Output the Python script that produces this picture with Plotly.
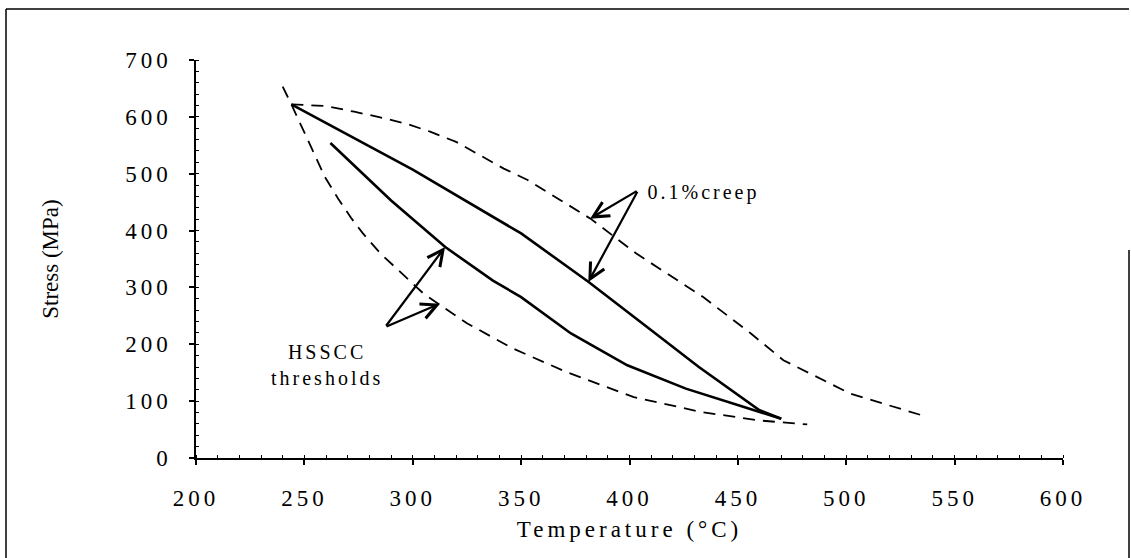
import plotly.graph_objects as go

# ---- data ----
creep_dashed_T = [244, 260, 273, 284, 297, 308, 320, 331, 342, 353, 382, 403, 434, 456, 471, 502, 535]
creep_dashed_S = [622, 619, 609, 600, 588, 574, 556, 533, 509, 489, 421, 360, 283, 219, 172, 113, 75]

creep_solid_T = [244, 300, 350, 359, 381, 412, 432, 460, 470]
creep_solid_S = [622, 507, 395, 370, 310, 219, 160, 84, 69]

hsscc_solid_T = [262, 290, 315, 337, 350, 373, 399, 426, 451, 470]
hsscc_solid_S = [554, 453, 371, 312, 283, 219, 163, 122, 92, 69]

hsscc_dashed_T = [240, 244, 259.5, 265.6, 271.8, 277, 285, 291, 305, 325, 346, 371, 402, 433, 460, 482]
hsscc_dashed_S = [653, 622, 494, 456, 421, 395, 360, 339, 289, 237, 193, 151, 107, 81, 66, 59]

x_ticks = [200, 250, 300, 350, 400, 450, 500, 550, 600]
y_ticks = [0, 100, 200, 300, 400, 500, 600, 700]

x_title = "Temperature (°C)"
y_title = "Stress (MPa)"
creep_label = "0.1%creep"
hsscc_label = "HSSCC<br>thresholds"

# arrow (tail -> tip) points
creep_tail = (404, 471)
creep_tips = [(381.8, 421), (381, 309.5)]
hsscc_tail = (287.2, 230)
hsscc_tips = [(314.9, 371), (312.6, 271.5)]

FONT = "Liberation Serif, Times New Roman, serif"

fig = go.Figure()
dash_style = dict(color="black", width=1.8, dash="12px,8px")
solid_style = dict(color="black", width=2.6)
fig.add_trace(go.Scatter(x=creep_dashed_T, y=creep_dashed_S, mode="lines", line=dash_style, showlegend=False))
fig.add_trace(go.Scatter(x=creep_solid_T, y=creep_solid_S, mode="lines", line=solid_style, showlegend=False))
fig.add_trace(go.Scatter(x=hsscc_solid_T, y=hsscc_solid_S, mode="lines", line=solid_style, showlegend=False))
fig.add_trace(go.Scatter(x=hsscc_dashed_T, y=hsscc_dashed_S, mode="lines", line=dash_style, showlegend=False))

annotations = []
for tail, tips in ((creep_tail, creep_tips), (hsscc_tail, hsscc_tips)):
    for tip in tips:
        annotations.append(dict(
            x=tip[0], y=tip[1], ax=tail[0], ay=tail[1], xref="x", yref="y",
            axref="x", ayref="y", text="", showarrow=True, arrowhead=5,
            arrowsize=1.4, arrowwidth=2.2, arrowcolor="black", standoff=0, startstandoff=0))

annotations.append(dict(x=413.5, y=467, xref="x", yref="y", text=creep_label, showarrow=False,
                        xanchor="left", yanchor="middle", font=dict(family=FONT, size=20, color="black")))
annotations.append(dict(x=260.5, y=164, xref="x", yref="y", text=hsscc_label, showarrow=False,
                        xanchor="center", yanchor="middle", align="center",
                        font=dict(family=FONT, size=20, color="black")))
fig.update_layout(annotations=annotations)

# frame around the figure
frame = dict(type="line", xref="paper", yref="paper", line=dict(color="black", width=1.5))
x0 = (6 - 196) / 867
x1 = (1129 - 196) / 867
ytop = (458 - 9) / 398
ybot = (458 - 560) / 398
ymid = (458 - 250) / 398
fig.update_layout(shapes=[
    dict(frame, x0=x0, x1=x1, y0=ytop, y1=ytop),
    dict(frame, x0=x0, x1=x0, y0=ybot, y1=ytop),
    dict(frame, x0=x1, x1=x1, y0=ybot, y1=ymid),
])

fig.update_xaxes(range=[200, 600], tickvals=x_ticks, ticktext=[str(v) for v in x_ticks],
                 showgrid=False, zeroline=False, showline=True, linecolor="black", linewidth=1.5,
                 ticks="outside", ticklen=5, tickwidth=1.5, tickcolor="black",
                 ticklabelstandoff=14,
                 minor=dict(dtick=10, ticks="inside", ticklen=3, tickwidth=1, tickcolor="black", showgrid=False),
                 tickfont=dict(family=FONT, size=23, color="black"),
                 title=dict(text=x_title, font=dict(family=FONT, size=23, color="black"), standoff=11))
fig.update_yaxes(range=[0, 700], tickvals=y_ticks, ticktext=[str(v) for v in y_ticks],
                 showgrid=False, zeroline=False, showline=True, linecolor="black", linewidth=1.5,
                 ticks="outside", ticklen=5, tickwidth=1.5, tickcolor="black",
                 ticklabelstandoff=13,
                 minor=dict(dtick=20, ticks="inside", ticklen=3, tickwidth=1, tickcolor="black", showgrid=False),
                 tickfont=dict(family=FONT, size=23, color="black"),
                 title=dict(text=y_title, font=dict(family=FONT, size=23, color="black"), standoff=72))

fig.update_layout(width=1131, height=558, margin=dict(l=196, r=68, t=60, b=100),
                  plot_bgcolor="white", paper_bgcolor="white", showlegend=False)

post = """
var gd = document.getElementById('{plot_id}');
function ls(sel, v){ gd.querySelectorAll(sel).forEach(function(e){ e.style.letterSpacing = v; }); }
ls('.xtick text', '4px');
ls('.ytick text', '4px');
ls('.xtitle', '4px');
ls('.annotation-text', '3px');
"""
fig.write_html("out.html", post_script=post)
